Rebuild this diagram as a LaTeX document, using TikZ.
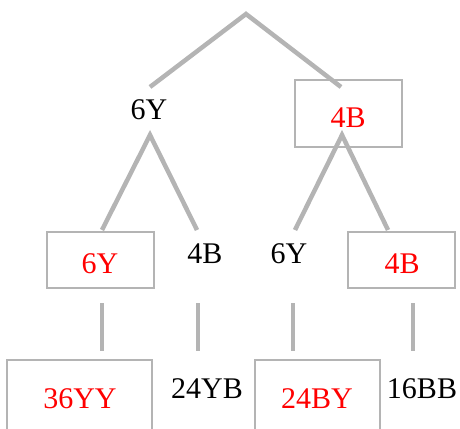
\documentclass[tikz,border=0pt]{standalone}
\usepackage{fontspec}
\setmainfont{Liberation Serif}
\definecolor{edgegray}{HTML}{B4B4B4}
\definecolor{txtred}{HTML}{FF0000}
\tikzset{
  conn/.style={draw=edgegray, line width=4.5pt, line cap=butt},
  boxnode/.style={draw=edgegray, line width=1.8pt, rectangle, inner sep=0pt},
  lbl/.style={anchor=base, inner sep=0pt, font=\fontsize{30}{36}\selectfont},
  redlbl/.style={lbl, text=txtred},
}
\begin{document}
\begin{tikzpicture}[x=1pt, y=-1pt]
\useasboundingbox (0,0) rectangle (460,428);
\clip (0,0) rectangle (460,428);
% boxes
\node[boxnode, minimum width=107pt, minimum height=67pt] (b1) at (348.5,113.5) {};
\node[boxnode, minimum width=107pt, minimum height=56pt] (b2) at (100.5,260) {};
\node[boxnode, minimum width=107pt, minimum height=56pt] (b3) at (401.5,260) {};
\node[boxnode, minimum width=145pt, minimum height=90pt] (b4) at (79.5,405) {};
\node[boxnode, minimum width=125pt, minimum height=90pt] (b5) at (317.5,405) {};
% labels
\node[lbl] (n1) at (149,119) {6Y};
\node[redlbl] (n2) at (348,127) {4B};
\node[redlbl] (n3) at (100,273) {6Y};
\node[lbl] (n4) at (205,263) {4B};
\node[lbl] (n5) at (289,263) {6Y};
\node[redlbl] (n6) at (402,273) {4B};
\node[redlbl] (n7) at (80,408) {36YY};
\node[lbl] (n8) at (207,398) {24YB};
\node[redlbl] (n9) at (317,408) {24BY};
\node[lbl] (n10) at (422,398) {16BB};
% connector end points
\coordinate (root) at (246,14);
\coordinate (n1t) at (150,87);
\coordinate (n2t) at (341,87);
\coordinate (n1b) at (150,135);
\coordinate (n2b) at (342,135);
\coordinate (n3t) at (102,230);
\coordinate (n4t) at (197,230);
\coordinate (n5t) at (295,230);
\coordinate (n6t) at (388,230);
\coordinate (n3b) at (102,303);
\coordinate (n4b) at (198,303);
\coordinate (n5b) at (293,303);
\coordinate (n6b) at (413,303);
\coordinate (n7t) at (102,351);
\coordinate (n8t) at (198,351);
\coordinate (n9t) at (293,351);
\coordinate (n10t) at (413,351);
% connectors
\draw[conn] (n1t) -- (root) -- (n2t);
\draw[conn] (n3t) -- (n1b) -- (n4t);
\draw[conn] (n5t) -- (n2b) -- (n6t);
\draw[conn] (n3b) -- (n7t);
\draw[conn] (n4b) -- (n8t);
\draw[conn] (n5b) -- (n9t);
\draw[conn] (n6b) -- (n10t);
\end{tikzpicture}
\end{document}
